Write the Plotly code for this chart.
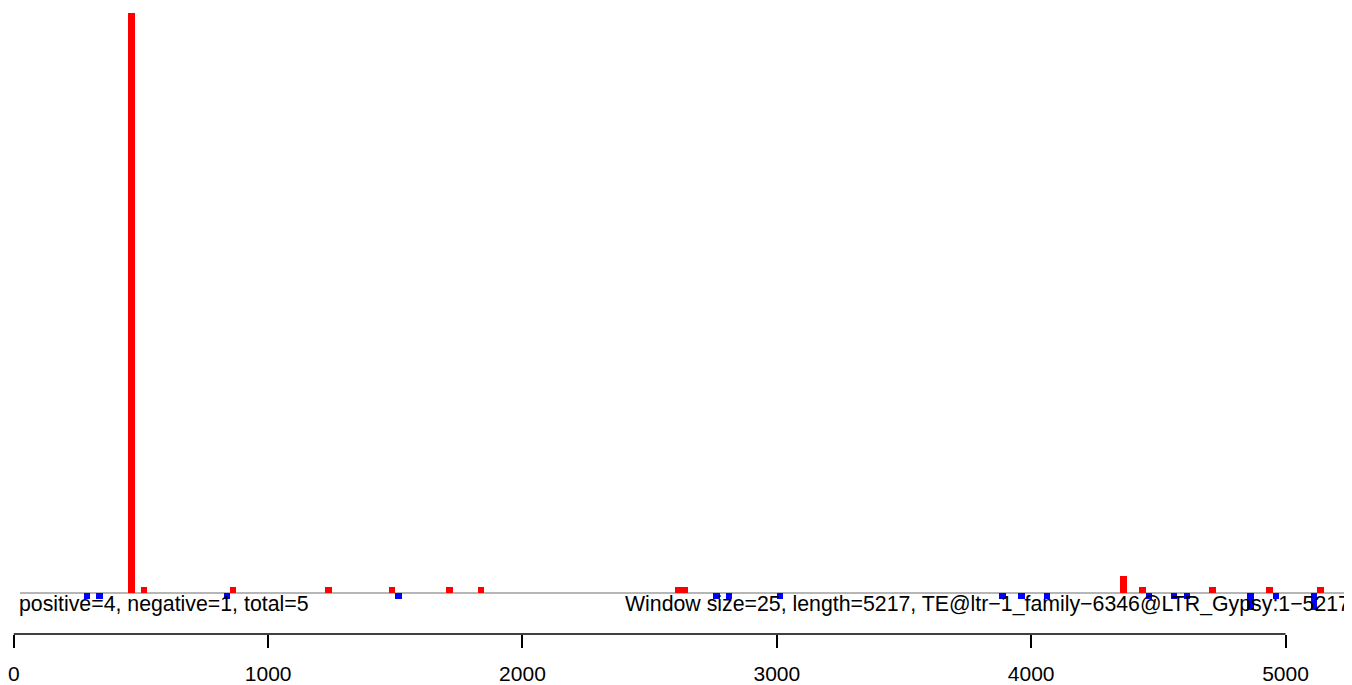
import plotly.graph_objects as go

# ---- data (window centres, counts) ----
pos_x = [462.5, 512.5, 862.5, 1237.5, 1487.5, 1712.5, 1837.5, 2612.5, 2637.5,
         4362.5, 4437.5, 4712.5, 4937.5, 5137.5]
pos_y = [100, 1, 1, 1, 1, 1, 1, 1, 1, 3, 1, 1, 1, 1]
neg_x = [287.5, 337.5, 837.5, 1512.5, 2762.5, 2812.5, 3012.5, 3887.5, 3962.5,
         4062.5, 4462.5, 4562.5, 4612.5, 4862.5, 4962.5, 5112.5]
neg_y = [-1, -1, -1, -1, -1, -1, -1, -1, -1, -1, -1, -1, -1, -3, -1, -3]
window = 25
tick_vals = [0, 1000, 2000, 3000, 4000, 5000]
tick_text = ["0", "1000", "2000", "3000", "4000", "5000"]
left_label = "positive=4, negative=1, total=5"
right_label = "Window size=25, length=5217, TE@ltr\u22121_family\u22126346@LTR_Gypsy:1\u22125217"

# page has an 8px body margin; figure sized to fill the rest of the window
OFF = 8
W, H = 1352 - OFF, 685 - OFF
FONT = "Liberation Sans, Arial, sans-serif"
FS = 21
FS_TXT = 21.3

fig = go.Figure()
fig.add_trace(go.Bar(x=pos_x, y=pos_y, width=window, marker=dict(color="#FF0000", line=dict(width=0)),
                     showlegend=False, hoverinfo="x+y"))
fig.add_trace(go.Bar(x=neg_x, y=neg_y, width=window, marker=dict(color="#0000FF", line=dict(width=0)),
                     showlegend=False, hoverinfo="x+y"))

# pixel geometry (screen px minus page offset)
x0_px, scale = 13.8 - OFF, 0.25434
xr = [-x0_px / scale, (W - x0_px) / scale]
plot_h = 634 - OFF
y0_px, yscale = 593 - OFF, 5.8
yr = [-(plot_h - y0_px) / yscale, y0_px / yscale]

fig.update_layout(
    width=W, height=H,
    margin=dict(l=0, r=0, t=0, b=H - plot_h, pad=0),
    plot_bgcolor="white", paper_bgcolor="white",
    barmode="overlay", bargap=0,
    font=dict(family=FONT, size=FS, color="black"),
    xaxis=dict(range=xr, showgrid=False, zeroline=False, showline=False,
               tickmode="array", tickvals=tick_vals, ticktext=tick_text,
               ticks="outside", ticklen=13, tickwidth=1.5, tickcolor="black",
               ticklabelstandoff=8, ticklabeloverflow="allow",
               tickfont=dict(family=FONT, size=FS, color="black")),
    yaxis=dict(range=yr, visible=False, showgrid=False, zeroline=False),
    shapes=[
        # baseline
        dict(type="line", xref="paper", yref="y", x0=(20 - OFF) / W, x1=(1350 - OFF) / W, y0=0, y1=0,
             line=dict(color="#9E9E9E", width=1.3), layer="below"),
        # axis line spanning the tick range
        dict(type="line", xref="x", yref="paper", x0=tick_vals[0], x1=tick_vals[-1], y0=0, y1=0,
             line=dict(color="black", width=1.5)),
    ],
    annotations=[
        dict(text=left_label, xref="paper", yref="y", x=(18 - OFF) / W, y=-1.9,
             xanchor="left", yanchor="middle", showarrow=False, borderpad=0,
             font=dict(family=FONT, size=FS_TXT, color="black")),
        dict(text=right_label, xref="paper", yref="y", x=(1351 - OFF) / W, y=-1.9,
             xanchor="right", yanchor="middle", showarrow=False, borderpad=0,
             font=dict(family=FONT, size=FS_TXT, color="black")),
    ],
)

fig.write_html("out.html")
